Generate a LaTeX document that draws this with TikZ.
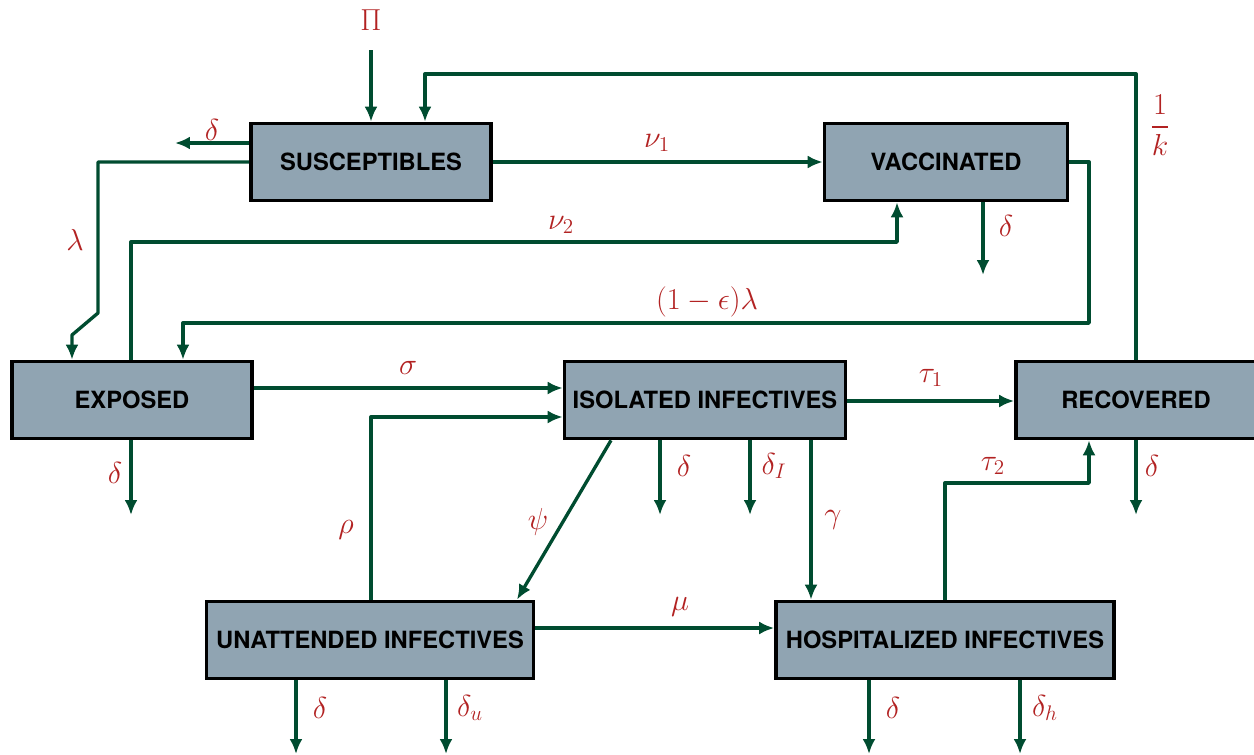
\documentclass[tikz,border=0pt]{standalone}
\usepackage{amsmath}
\usepackage{fontspec}
\setsansfont{TeX Gyre Heros}
\usetikzlibrary{arrows.meta}
\definecolor{boxgray}{RGB}{144,164,178}
\definecolor{flowgreen}{RGB}{0,76,48}
\definecolor{ratered}{RGB}{178,34,34}
\tikzset{flow/.style={draw=flowgreen, line width=1.9pt, line join=round, -{Latex[length=0.3cm,width=0.26cm]}}}

\begin{document}
\begin{tikzpicture}[x=0.02cm, y=-0.02cm]
            \useasboundingbox (0,0) rectangle (1254,754);

            \begin{scope}[every node/.style={draw=black, line width=2.1pt, fill=boxgray, inner sep=0pt, minimum height=1.54cm, font=\fontsize{13.5}{16}\sffamily\bfseries}]
                \node[minimum width=4.8cm]  (S) at (371,162) {SUSCEPTIBLES};
                \node[minimum width=4.86cm] (V) at (946,162) {VACCINATED};
                \node[minimum width=4.8cm]  (E) at (132,400) {EXPOSED};
                \node[minimum width=5.62cm] (I) at (705,400) {ISOLATED INFECTIVES};
                \node[minimum width=4.8cm]  (R) at (1136,400) {RECOVERED};
                \node[minimum width=6.54cm] (U) at (370,640) {UNATTENDED INFECTIVES};
                \node[minimum width=6.76cm] (H) at (945,640) {HOSPITALIZED INFECTIVES};
            \end{scope}

            % turning points and free ends
            \coordinate (pi0) at (371,50);
            \coordinate (dS) at (175,143);
            \coordinate (l1) at (98,162);
            \coordinate (l2) at (98,313);
            \coordinate (l3) at (72,335);
            \coordinate (k1) at (1136,74);
            \coordinate (k2) at (425,74);
            \coordinate (n1) at (131,242);
            \coordinate (n2) at (897,242);
            \coordinate (e1) at (1089,162);
            \coordinate (e2) at (1089,323);
            \coordinate (e3) at (183,323);
            \coordinate (sg) at (400,388);
            \coordinate (r1) at (371,417);
            \coordinate (t1) at (930,401);
            \coordinate (t2) at (945,483);
            \coordinate (t3) at (1089,483);
            \coordinate (ga) at (811,500);
            \coordinate (ps1) at (611,439);
            \coordinate (ps2) at (517,602);
            \coordinate (mu) at (650,628);
            \coordinate (dV) at (983,275);
            \coordinate (dE) at (131,515);
            \coordinate (dI) at (660,515);
            \coordinate (dII) at (750,515);
            \coordinate (dR) at (1136,515);
            \coordinate (dU) at (296,754);
            \coordinate (dUu) at (446,754);
            \coordinate (dH) at (869,754);
            \coordinate (dHh) at (1020,754);

            \begin{scope}[every node/.style={text=ratered, font=\fontsize{16.5}{20}\selectfont}]
                \node (Pi) at (371,20) {$\Pi$};
                \node (lbS) at (212,130) {$\delta$};
                \node (lbl) at (75,240) {$\lambda$};
                \node (lbk) at (1160,125) {$\dfrac{1}{k}$};
                \node (lbn1) at (657,143) {$\nu_1$};
                \node (lbV) at (1006,226) {$\delta$};
                \node (lbn2) at (561,225) {$\nu_2$};
                \node (lbe) at (707,302) {$(1-\epsilon)\lambda$};
                \node (lbs) at (408,368) {$\sigma$};
                \node (lbt1) at (931,378) {$\tau_1$};
                \node (lbE) at (115,473) {$\delta$};
                \node (lbr) at (346,530) {$\rho$};
                \node (lbp) at (538,522) {$\psi$};
                \node (lbI) at (684,466) {$\delta$};
                \node (lbII) at (774,466) {$\delta_I$};
                \node (lbg) at (833,520) {$\gamma$};
                \node (lbt2) at (993,466) {$\tau_2$};
                \node (lbR) at (1152,466) {$\delta$};
                \node (lbm) at (680,607) {$\mu$};
                \node (lbU) at (320,708) {$\delta$};
                \node (lbUu) at (470,708) {$\delta_u$};
                \node (lbH) at (893,708) {$\delta$};
                \node (lbHh) at (1045,708) {$\delta_h$};
            \end{scope}

            \begin{scope}[every edge/.style={flow}]
                \path (pi0) edge (S.north);
                \path (S.west |- dS) edge (dS);
                \draw [flow] (S.west) -- (l1) -- (l2) -- (l3) -- (l3 |- E.north);
                \draw [flow] (R.north) -- (k1) -- (k2) -- (k2 |- S.north);
                \path (S.east) edge (V.west);
                \path (V.south -| dV) edge (dV);
                \draw [flow] (E.north -| n1) -- (n1) -- (n2) -- (n2 |- V.south);
                \draw [flow] (V.east) -- (e1) -- (e2) -- (e3) -- (e3 |- E.north);
                \path (E.east |- sg) edge (I.west |- sg);
                \draw [flow] (U.north -| r1) -- (r1) -- (I.west |- r1);
                \path (I.east |- t1) edge (R.west |- t1);
                \path (E.south -| dE) edge (dE);
                \path (I.south -| dI) edge (dI);
                \path (I.south -| dII) edge (dII);
                \path (I.south -| ga) edge (H.north -| ga);
                \path (I.south -| ps1) edge (U.north -| ps2);
                \path (U.east |- mu) edge (H.west |- mu);
                \draw [flow] (H.north -| t2) -- (t2) -- (t3) -- (t3 |- R.south);
                \path (R.south -| dR) edge (dR);
                \path (U.south -| dU) edge (dU);
                \path (U.south -| dUu) edge (dUu);
                \path (H.south -| dH) edge (dH);
                \path (H.south -| dHh) edge (dHh);
            \end{scope}
        \end{tikzpicture}
\end{document}
